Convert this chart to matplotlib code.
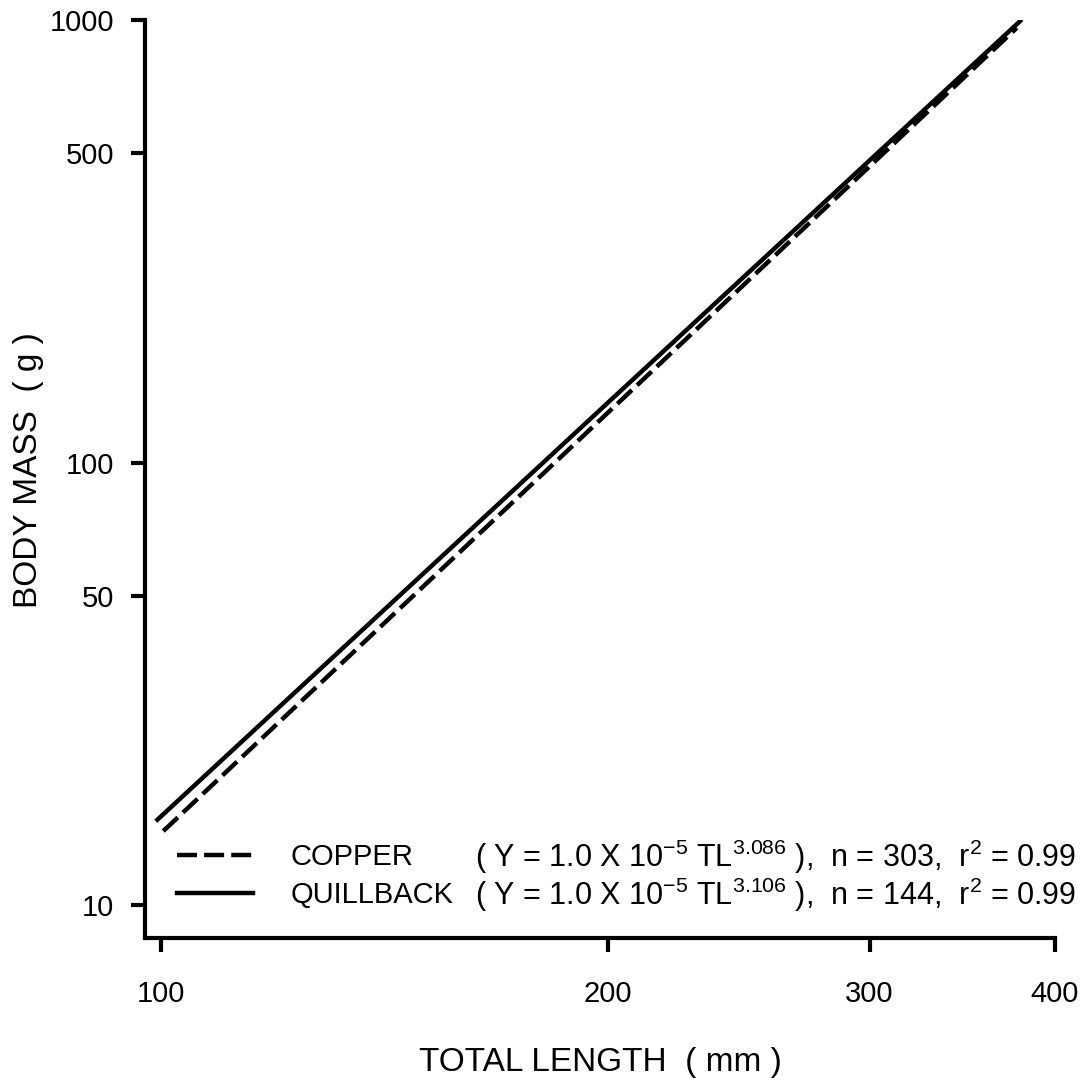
import matplotlib
matplotlib.use("Agg")
import matplotlib.pyplot as plt
from matplotlib.ticker import FixedLocator, FixedFormatter, NullLocator

# ---- data ----
tl_copper = [100.3, 377]
mass_copper = [14.7, 960]
tl_quill = [99.4, 379]
mass_quill = [15.6, 995]

x_ticks = [100, 200, 300, 400]
x_ticklabels = ["100", "200", "300", "400"]
y_ticks = [10, 50, 100, 500, 1000]
y_ticklabels = ["10", "50", "100", "500", "1000"]

species = ["COPPER", "QUILLBACK"]
formulas = [
    r"( Y = 1.0 X 10$^{-5}$ TL$^{3.086}$ ),  n = 303,  r$^{2}$ = 0.99",
    r"( Y = 1.0 X 10$^{-5}$ TL$^{3.106}$ ),  n = 144,  r$^{2}$ = 0.99",
]

plt.rcParams['font.family'] = ['Liberation Sans', 'DejaVu Sans']
plt.rcParams['mathtext.fontset'] = 'custom'
plt.rcParams['mathtext.rm'] = 'Liberation Sans'
plt.rcParams['mathtext.it'] = 'Liberation Sans'
plt.rcParams['mathtext.default'] = 'rm'

fig = plt.figure(figsize=(10.86, 10.85), dpi=100)
ax = fig.add_axes([145/1086, 1 - 938/1085, 910/1086, 918/1085])

ax.set_xscale('log')
ax.set_yscale('log')
ax.set_xlim(97.5, 400)
ax.set_ylim(8.43, 1000)

lw = 3.2
l1, = ax.plot(tl_copper, mass_copper, color='black', lw=lw, linestyle=(0, (4.5, 1.6)),
              solid_capstyle='butt', dash_capstyle='butt', label=species[0])
l2, = ax.plot(tl_quill, mass_quill, color='black', lw=lw, label=species[1])

for s in ['top', 'right']:
    ax.spines[s].set_visible(False)
for s in ['left', 'bottom']:
    ax.spines[s].set_linewidth(3.0)

ax.xaxis.set_major_locator(FixedLocator(x_ticks))
ax.xaxis.set_major_formatter(FixedFormatter(x_ticklabels))
ax.xaxis.set_minor_locator(NullLocator())
ax.yaxis.set_major_locator(FixedLocator(y_ticks))
ax.yaxis.set_major_formatter(FixedFormatter(y_ticklabels))
ax.yaxis.set_minor_locator(NullLocator())

ax.tick_params(axis='x', direction='out', length=10, width=3, pad=20, labelsize=21)
ax.tick_params(axis='y', direction='out', length=10, width=3, pad=12, labelsize=21)

ax.set_xlabel("TOTAL LENGTH  ( mm )", fontsize=24)
ax.set_ylabel("BODY MASS  ( g )", fontsize=24)
ax.xaxis.set_label_coords(0.5, (938 - 1047) / 918)
ax.yaxis.set_label_coords((44 - 145) / 910, (938 - 470) / 918)

leg = ax.legend(handles=[l1, l2], loc='center left', bbox_to_anchor=(0.035, 0.0675),
                frameon=False, fontsize=21, handlelength=2.6, handletextpad=1.3,
                labelspacing=0.35, borderpad=0, borderaxespad=0)

ys = [(938 - 857) / 918, (938 - 895) / 918]
for f, yy in zip(formulas, ys):
    ax.text(0.3626, yy, f, transform=ax.transAxes, fontsize=22, va='center', ha='left')

fig.savefig("out.png", dpi=100)
